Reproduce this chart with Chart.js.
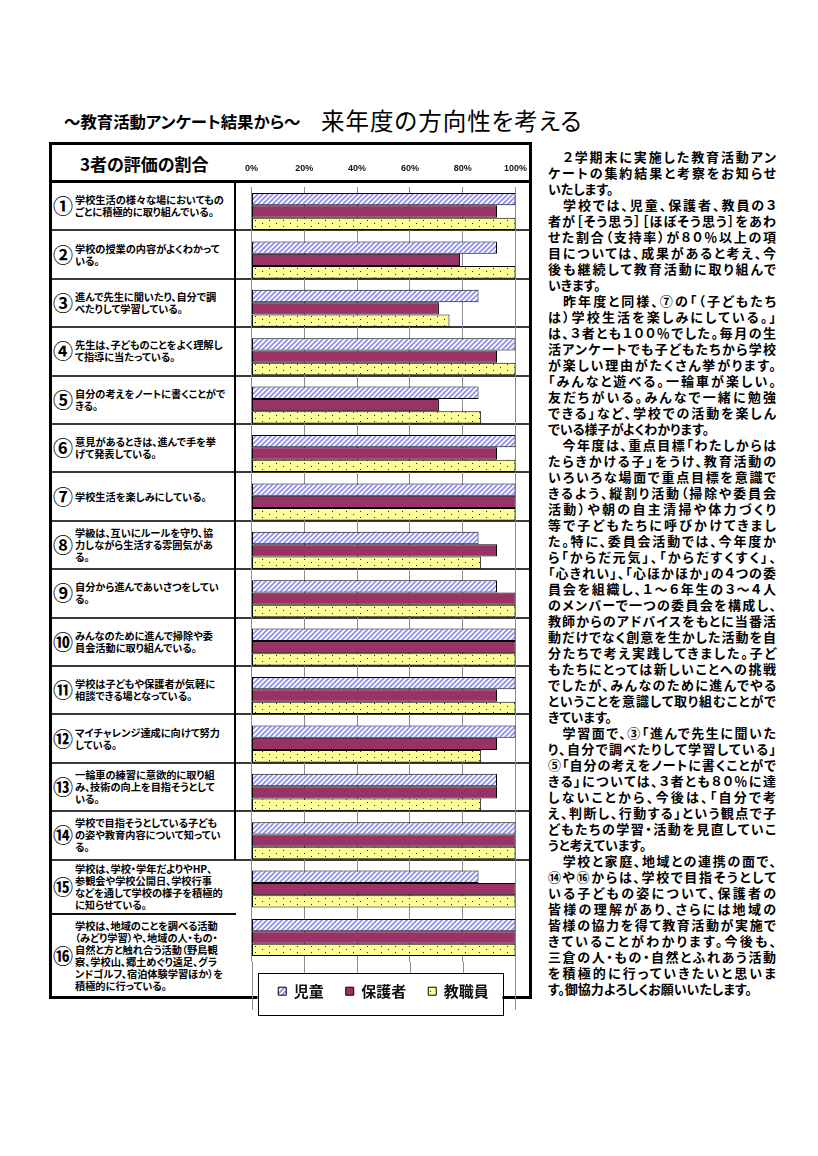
<!DOCTYPE html>
<html lang="ja">
<head>
<meta charset="utf-8">
<title>来年度の方向性を考える</title>
<script src="https://cdn.jsdelivr.net/npm/chart.js@4.4.1/dist/chart.umd.min.js"></script>
<style>
  html, body { margin: 0; padding: 0; background: #fff; }
  body {
    position: relative; width: 818px; height: 1156px; overflow: hidden;
    font-family: "Noto Sans CJK JP", sans-serif; color: #000;
    font-feature-settings: "palt";
  }
  .subTitle { position: absolute; left: 64px; top: 108px; font-size: 16.4px; font-weight: 700; line-height: 26px; white-space: nowrap; }
  .mainTitle { position: absolute; left: 321px; top: 104px; font-size: 23.5px; letter-spacing: 1px; line-height: 32px; white-space: nowrap; }
  #frame { position: absolute; left: 49px; top: 142px; width: 483px; height: 857px; border: 3px solid #000; box-sizing: border-box; }
  .rule { position: absolute; background: #333; }
  .headLabel { position: absolute; left: 80px; top: 152px; font-size: 17px; font-weight: 700; line-height: 24px; white-space: nowrap; }
  .cell { position: absolute; left: 52px; width: 182px; display: flex; align-items: center; }
  .cell .no { width: 22px; margin-right: 1px; font-size: 20px; font-weight: 700; line-height: 22px; text-align: center; }
  .cell .q { font-size: 10.2px; font-weight: 700; line-height: 12px; white-space: pre; }
  #chartBox { position: absolute; left: 231.5px; top: 150px; width: 308px; height: 870px; }
  #memo { position: absolute; left: 548px; top: 149px; width: 232px; font-size: 13px; font-weight: 700; line-height: 16px; }
  #memo div { white-space: nowrap; height: 16px; }
</style>
</head>
<body>
<div class="subTitle">～教育活動アンケート結果から～</div>
<div class="mainTitle">来年度の方向性を考える</div>

<div id="frame"></div>
<div id="table"></div>
<div class="headLabel">3者の評価の割合</div>
<div id="chartBox"><canvas id="rateChart"></canvas></div>
<div id="memo"></div>

<script>
// --- data ---
const questionNos = ['①', '②', '③', '④', '⑤', '⑥', '⑦', '⑧', '⑨', '⑩', '⑪', '⑫', '⑬', '⑭', '⑮', '⑯']
const questions = [
  '学校生活の様々な場においてもの\nごとに積極的に取り組んでいる。',
  '学校の授業の内容がよくわかって\nいる。',
  '進んで先生に聞いたり、自分で調\nべたりして学習している。',
  '先生は、子どものことをよく理解し\nて指導に当たっている。',
  '自分の考えをノートに書くことがで\nきる。',
  '意見があるときは、進んで手を挙\nげて発表している。',
  '学校生活を楽しみにしている。',
  '学級は、互いにルールを守り、協\n力しながら生活する雰囲気があ\nる。',
  '自分から進んであいさつをしてい\nる。',
  'みんなのために進んで掃除や委\n員会活動に取り組んでいる。',
  '学校は子どもや保護者が気軽に\n相談できる場となっている。',
  'マイチャレンジ達成に向けて努力\nしている。',
  '一輪車の練習に意欲的に取り組\nみ、技術の向上を目指そうとして\nいる。',
  '学校で目指そうとしている子ども\nの姿や教育内容について知ってい\nる。',
  '学校は、学校・学年だよりやHP、\n参観会や学校公開日、学校行事\nなどを通して学校の様子を積極的\nに知らせている。',
  '学校は、地域のことを調べる活動\n（みどり学習）や、地域の人・もの・\n自然と方と触れ合う活動（野鳥観\n察、学校山、郷土めぐり遠足、グラ\nンドゴルフ、宿泊体験学習ほか）を\n積極的に行っている。'
]
const seriesNames = ['児童', '保護者', '教職員']
const childValues = [100, 93, 86, 100, 86, 100, 100, 86, 93, 100, 100, 100, 93, 100, 86, 100]
const parentValues = [93, 79, 71, 93, 71, 93, 100, 93, 100, 100, 93, 93, 93, 100, 100, 100]
const staffValues = [100, 100, 75, 100, 87, 100, 100, 87, 100, 100, 100, 87, 87, 100, 100, 100]
const tickValues = [0, 20, 40, 60, 80, 100]

// right-hand comment column, one entry per printed line
const memo = [
  ['　２学期末に実施した教育活動アン', 'ケートの集約結果と考察をお知らせ', 'いたします。'],
  ['　学校では、児童、保護者、教員の３', '者が［そう思う］［ほぼそう思う］をあわ', 'せた割合（支持率）が８０％以上の項',
   '目については、成果があると考え、今', '後も継続して教育活動に取り組んで', 'いきます。'],
  ['　昨年度と同様、⑦の「（子どもたち', 'は）学校生活を楽しみにしている。」', 'は、３者とも１００％でした。毎月の生',
   '活アンケートでも子どもたちから学校', 'が楽しい理由がたくさん挙がります。', '「みんなと遊べる。一輪車が楽しい。',
   '友だちがいる。みんなで一緒に勉強', 'できる」など、学校での活動を楽しん', 'でいる様子がよくわかります。'],
  ['　今年度は、重点目標「わたしからは', 'たらきかける子」をうけ、教育活動の', 'いろいろな場面で重点目標を意識で',
   'きるよう、縦割り活動（掃除や委員会', '活動）や朝の自主清掃や体力づくり', '等で子どもたちに呼びかけてきまし',
   'た。特に、委員会活動では、今年度か', 'ら「からだ元気」、「からだすくすく」、', '「心きれい」、「心ほかほか」の４つの委',
   '員会を組織し、１～６年生の３～４人', 'のメンバーで一つの委員会を構成し、', '教師からのアドバイスをもとに当番活',
   '動だけでなく創意を生かした活動を自', '分たちで考え実践してきました。子ど', 'もたちにとっては新しいことへの挑戦',
   'でしたが、みんなのために進んでやる', 'ということを意識して取り組むことがで', 'きています。'],
  ['　学習面で、③「進んで先生に聞いた', 'り、自分で調べたりして学習している」', '⑤「自分の考えをノートに書くことがで',
   'きる」については、３者とも８０％に達', 'しないことから、今後は、「自分で考', 'え、判断し、行動する」という観点で子',
   'どもたちの学習・活動を見直していこ', 'うと考えています。'],
  ['　学校と家庭、地域との連携の面で、', '⑭や⑯からは、学校で目指そうとして', 'いる子どもの姿について、保護者の',
   '皆様の理解があり、さらには地域の', '皆様の協力を得て教育活動が実施で', 'きていることがわかります。今後も、',
   '三倉の人・もの・自然とふれあう活動', 'を積極的に行っていきたいと思いま', 'す。御協力よろしくお願いいたします。']
]

// --- table behind the chart ---
const GRID = '#8c8c8c'
const rowEdges = []
for (let i = 0; i <= 14; i++) rowEdges.push(182 + 48.4 * i)
rowEdges.push(914, 997)

const table = document.getElementById('table')
function rule(left, top, width, height, color) {
  const d = document.createElement('div')
  d.className = 'rule'
  d.style.cssText = `left:${left}px;top:${top}px;width:${width}px;height:${height}px;background:${color}`
  table.appendChild(d)
}
rule(49, 180, 483, 3, '#000')
rowEdges.slice(1, 15).forEach((y) => rule(52, y - 1, 477, 2, '#3a3a3a'))
rule(52, 913, 184, 2, '#111')
rule(234, 182, 2, rowEdges[14] - 182, '#000')

questions.forEach((q, i) => {
  const cell = document.createElement('div')
  cell.className = 'cell'
  cell.style.top = rowEdges[i] + 'px'
  cell.style.height = (rowEdges[i + 1] - rowEdges[i]) + 'px'
  cell.innerHTML = `<span class="no">${questionNos[i]}</span><span class="q"></span>`
  cell.querySelector('.q').textContent = q
  table.appendChild(cell)
})

// --- memo column, lines spread to the column width ---
const memoBox = document.getElementById('memo')
const MEMO_W = 228
memo.forEach((para) => {
  para.forEach((line, j) => {
    const d = document.createElement('div')
    const s = document.createElement('span')
    s.textContent = line
    d.appendChild(s)
    memoBox.appendChild(d)
    if (j < para.length - 1) {
      const n = Array.from(line).length
      const w = s.getBoundingClientRect().width
      s.style.letterSpacing = ((MEMO_W - w) / (n - 1)) + 'px'
    }
  })
})

// --- bar fills ---
function hatchFill() {
  const s = 5
  const c = document.createElement('canvas')
  c.width = s; c.height = s
  const g = c.getContext('2d')
  g.fillStyle = '#fff'
  g.fillRect(0, 0, s, s)
  g.strokeStyle = '#8f8ff7'
  g.lineWidth = 1.8
  g.beginPath()
  g.moveTo(-1, s + 1); g.lineTo(s + 1, -1)
  g.moveTo(-1, 1); g.lineTo(1, -1)
  g.moveTo(s - 1, s + 1); g.lineTo(s + 1, s - 1)
  g.stroke()
  return g.createPattern(c, 'repeat')
}
function dotFill() {
  const c = document.createElement('canvas')
  c.width = 14; c.height = 6
  const g = c.getContext('2d')
  g.fillStyle = '#ffff99'
  g.fillRect(0, 0, 14, 6)
  g.fillStyle = '#222'
  g.fillRect(2, 1, 1, 1)
  g.fillRect(9, 4, 1, 1)
  return g.createPattern(c, 'repeat')
}

// gridlines run on under the legend, legend sits in a white framed box
const legendFrame = {
  id: 'legendFrame',
  beforeDraw(chart) {
    const { ctx, chartArea } = chart
    const x = chart.scales.x
    ctx.save()
    ctx.strokeStyle = GRID
    ctx.lineWidth = 1
    x.ticks.forEach((t) => {
      const px = Math.round(x.getPixelForValue(t.value)) + 0.5
      ctx.beginPath()
      ctx.moveTo(px, chartArea.bottom)
      ctx.lineTo(px, chartArea.bottom + 48)
      ctx.stroke()
    })
    const left = chartArea.left + 6
    const right = chartArea.right - 13
    const top = chartArea.bottom + 11
    ctx.fillStyle = '#fff'
    ctx.fillRect(left, top, right - left, 42)
    ctx.strokeStyle = '#000'
    ctx.strokeRect(Math.round(left) + 0.5, Math.round(top) + 0.5, Math.round(right - left), 42)
    ctx.restore()
  }
}

new Chart(document.getElementById('rateChart'), {
  type: 'bar',
  data: {
    labels: questions,
    datasets: [
      { label: seriesNames[0], data: childValues, backgroundColor: hatchFill(), borderColor: '#000', borderWidth: 1 },
      { label: seriesNames[1], data: parentValues, backgroundColor: '#993366', borderColor: '#000', borderWidth: 1 },
      { label: seriesNames[2], data: staffValues, backgroundColor: dotFill(), borderColor: '#000', borderWidth: 1 }
    ]
  },
  options: {
    indexAxis: 'y',
    responsive: true,
    maintainAspectRatio: false,
    animation: false,
    events: [],
    datasets: { bar: { categoryPercentage: 0.765, barPercentage: 1, borderSkipped: false } },
    layout: { padding: { top: 0.5, left: 19.5, right: 24.5, bottom: 11.3 } },
    scales: {
      x: {
        position: 'top',
        min: 0,
        max: 100,
        afterBuildTicks: (scale) => { scale.ticks = tickValues.map((v) => ({ value: v })) },
        ticks: {
          color: '#111',
          padding: 13,
          maxRotation: 0,
          autoSkip: false,
          font: { family: '"Liberation Sans", Arial, sans-serif', size: 9, weight: 'bold' },
          callback: (v) => v + '%'
        },
        grid: { color: GRID, lineWidth: 1, drawTicks: false },
        border: { display: false }
      },
      y: { display: false }
    },
    plugins: {
      legend: {
        position: 'bottom',
        labels: {
          boxWidth: 8,
          boxHeight: 8,
          padding: 22,
          color: '#111',
          font: { family: '"Noto Sans CJK JP", sans-serif', size: 15, weight: 'bold' }
        }
      },
      tooltip: { enabled: false }
    }
  },
  plugins: [legendFrame]
})
</script>
</body>
</html>
